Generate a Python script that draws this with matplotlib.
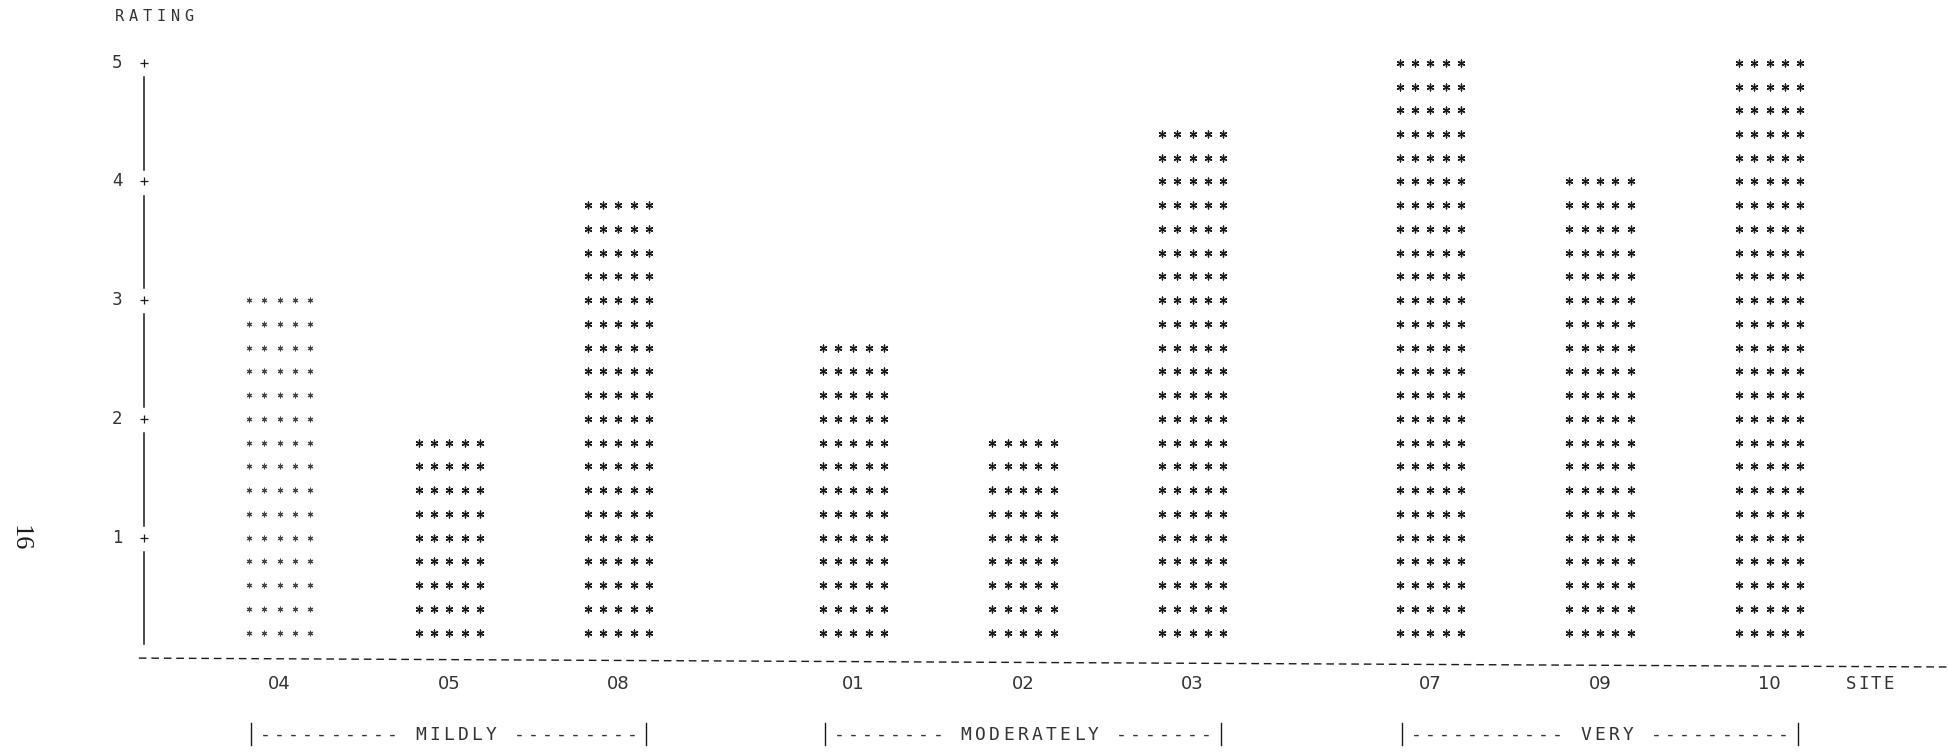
import matplotlib
matplotlib.use("Agg")
import matplotlib.pyplot as plt
import numpy as np

# ---- data ----
sites = ["04", "05", "08", "01", "02", "03", "07", "09", "10"]
ratings = [3.0, 1.8, 3.8, 2.6, 1.8, 4.4, 5.0, 4.0, 5.0]
groups = ["MILDLY", "MODERATELY", "VERY"]
group_sites = [["04", "05", "08"], ["01", "02", "03"], ["07", "09", "10"]]
y_ticks = [1, 2, 3, 4, 5]
row_step = 0.2  # each printed row of asterisks = 0.2 rating units

# ---- layout ----
W, H = 1949, 754
fig = plt.figure(figsize=(W / 100, H / 100), dpi=100)
ax = fig.add_axes([0, 0, 1, 1])
ax.set_xlim(-1.648, 9.837)
ax.set_ylim(-0.823, 5.529)
ax.axis("off")

px_u = 169.7  # pixels per x unit
x_pos = [0.0, 1.0, 1.996, 3.38, 4.38, 5.38, 6.78, 7.78, 8.78]
star_dx = 15.3 / px_u
ink = "#1a1a1a"
mono = "DejaVu Sans Mono"


def spaced(text, u0, v, pitch_px, size, ha="left", **kw):
    pitch = pitch_px / px_u
    n = len(text)
    if ha == "center":
        u0 = u0 - pitch * (n - 1) / 2
    for i, ch in enumerate(text):
        if ch != " ":
            ax.text(u0 + i * pitch, v, ch, ha="center", va="center",
                    fontsize=size, family=mono, color="#333333", **kw)


# ---- asterisk columns ----
for xi, val, s in zip(x_pos, ratings, sites):
    n = int(round(val / row_step))
    ys = np.arange(1, n + 1) * row_step
    for j in range(5):
        xx = np.full_like(ys, xi + (j - 2) * star_dx)
        if s == "04":
            ax.scatter(xx, ys, marker=(6, 2, 0), s=12, linewidths=0.8, color="#444444")
        else:
            ax.scatter(xx, ys, marker=(6, 2, 0), s=24, linewidths=0.95, color=ink)

# ---- y axis (printer style) ----
u_axis = -0.80
for k in range(5):
    ax.plot([u_axis, u_axis], [k + 0.10, k + 0.88], color=ink, lw=1.1)
ax.scatter([u_axis] * len(y_ticks), y_ticks, marker="+", s=40, linewidths=0.9, color=ink)
for t in y_ticks:
    ax.text(-0.958, t, str(t), ha="center", va="center", fontsize=12,
            family="DejaVu Sans", color="#333333")
spaced("RATING", -0.945, 5.394, 14.0, 11)

# ---- baseline ----
ax.plot([-0.83, 9.837], [-0.015, -0.09], color=ink, lw=1.0, linestyle=(0, (5.5, 3.5)))

# ---- site labels ----
for xi, s in zip(x_pos, sites):
    ax.text(xi, -0.233, s, ha="center", va="center", fontsize=13,
            family="DejaVu Sans", color="#333333")
spaced("SITE", 9.37, -0.233, 12.6, 12.5, ha="center")

# ---- group brackets ----
group_specs = {"MILDLY": (10, 9), "MODERATELY": (8, 7), "VERY": (11, 10)}
for g, members in zip(groups, group_sites):
    xs = [x_pos[sites.index(m)] for m in members]
    u0 = xs[0] - 0.168
    u1 = xs[-1] + 0.165
    nb, na = group_specs[g]
    text = "|" + "-" * nb + " " + g + " " + "-" * na + "|"
    pitch = (u1 - u0) / (len(text) - 1)
    for i, ch in enumerate(text):
        uu = u0 + i * pitch
        if ch == "|":
            ax.plot([uu, uu], [-0.56, -0.75], color=ink, lw=1.0)
        elif ch != " ":
            ax.text(uu, -0.66, ch, ha="center", va="center", fontsize=13,
                    family=mono, color="#333333")

# ---- page number ----
ax.text((20 / px_u) - 1.648, (656.3 - 538) / 118.7, "16", rotation=-90,
        ha="center", va="center", fontsize=19, family="Liberation Serif", color=ink)

fig.savefig("out.png", dpi=100, facecolor="white")
